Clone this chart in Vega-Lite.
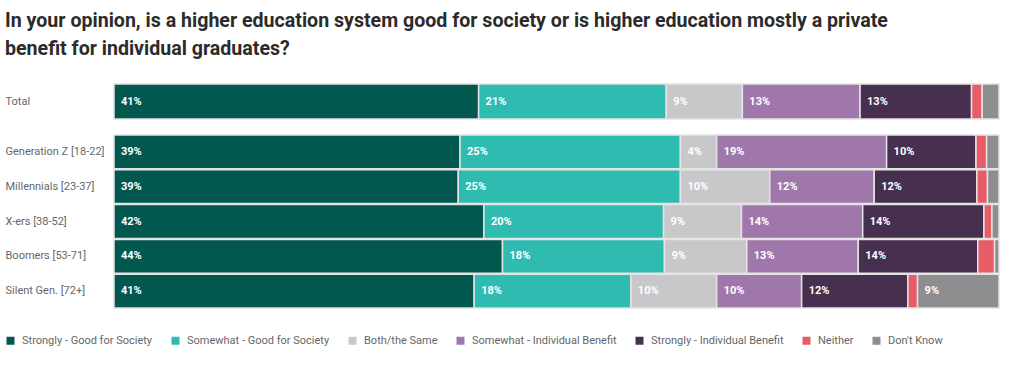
{
  "$schema": "https://vega.github.io/schema/vega-lite/v6.json",
  "background": "white",
  "padding": {"left": 5, "top": 10, "right": 5, "bottom": 5},
  "title": {
    "text": ["In your opinion, is a higher education system good for society or is higher education mostly a private", "benefit for individual graduates?"],
    "anchor": "start",
    "frame": "bounds",
    "font": "Roboto",
    "fontSize": 19.6,
    "fontWeight": "bold",
    "color": "#2b2b2b",
    "lineHeight": 28,
    "offset": 24
  },
  "data": {
    "values": [
      {"group": "Total", "answer": "Strongly - Good for Society", "share": 0.412},
      {"group": "Total", "answer": "Somewhat - Good for Society", "share": 0.212},
      {"group": "Total", "answer": "Both/the Same", "share": 0.086},
      {"group": "Total", "answer": "Somewhat - Individual Benefit", "share": 0.133},
      {"group": "Total", "answer": "Strongly - Individual Benefit", "share": 0.126},
      {"group": "Total", "answer": "Neither", "share": 0.012},
      {"group": "Total", "answer": "Don't Know", "share": 0.019},
      {"group": "Generation Z [18-22]", "answer": "Strongly - Good for Society", "share": 0.391},
      {"group": "Generation Z [18-22]", "answer": "Somewhat - Good for Society", "share": 0.249},
      {"group": "Generation Z [18-22]", "answer": "Both/the Same", "share": 0.041},
      {"group": "Generation Z [18-22]", "answer": "Somewhat - Individual Benefit", "share": 0.192},
      {"group": "Generation Z [18-22]", "answer": "Strongly - Individual Benefit", "share": 0.101},
      {"group": "Generation Z [18-22]", "answer": "Neither", "share": 0.012},
      {"group": "Generation Z [18-22]", "answer": "Don't Know", "share": 0.014},
      {"group": "Millennials [23-37]", "answer": "Strongly - Good for Society", "share": 0.389},
      {"group": "Millennials [23-37]", "answer": "Somewhat - Good for Society", "share": 0.251},
      {"group": "Millennials [23-37]", "answer": "Both/the Same", "share": 0.101},
      {"group": "Millennials [23-37]", "answer": "Somewhat - Individual Benefit", "share": 0.118},
      {"group": "Millennials [23-37]", "answer": "Strongly - Individual Benefit", "share": 0.116},
      {"group": "Millennials [23-37]", "answer": "Neither", "share": 0.012},
      {"group": "Millennials [23-37]", "answer": "Don't Know", "share": 0.013},
      {"group": "X-ers [38-52]", "answer": "Strongly - Good for Society", "share": 0.418},
      {"group": "X-ers [38-52]", "answer": "Somewhat - Good for Society", "share": 0.203},
      {"group": "X-ers [38-52]", "answer": "Both/the Same", "share": 0.088},
      {"group": "X-ers [38-52]", "answer": "Somewhat - Individual Benefit", "share": 0.137},
      {"group": "X-ers [38-52]", "answer": "Strongly - Individual Benefit", "share": 0.137},
      {"group": "X-ers [38-52]", "answer": "Neither", "share": 0.009},
      {"group": "X-ers [38-52]", "answer": "Don't Know", "share": 0.008},
      {"group": "Boomers [53-71]", "answer": "Strongly - Good for Society", "share": 0.439},
      {"group": "Boomers [53-71]", "answer": "Somewhat - Good for Society", "share": 0.183},
      {"group": "Boomers [53-71]", "answer": "Both/the Same", "share": 0.093},
      {"group": "Boomers [53-71]", "answer": "Somewhat - Individual Benefit", "share": 0.126},
      {"group": "Boomers [53-71]", "answer": "Strongly - Individual Benefit", "share": 0.135},
      {"group": "Boomers [53-71]", "answer": "Neither", "share": 0.019},
      {"group": "Boomers [53-71]", "answer": "Don't Know", "share": 0.005},
      {"group": "Silent Gen. [72+]", "answer": "Strongly - Good for Society", "share": 0.407},
      {"group": "Silent Gen. [72+]", "answer": "Somewhat - Good for Society", "share": 0.177},
      {"group": "Silent Gen. [72+]", "answer": "Both/the Same", "share": 0.097},
      {"group": "Silent Gen. [72+]", "answer": "Somewhat - Individual Benefit", "share": 0.096},
      {"group": "Silent Gen. [72+]", "answer": "Strongly - Individual Benefit", "share": 0.120},
      {"group": "Silent Gen. [72+]", "answer": "Neither", "share": 0.011},
      {"group": "Silent Gen. [72+]", "answer": "Don't Know", "share": 0.092}
    ]
  },
  "transform": [
    {"stack": "share", "groupby": ["group"], "as": ["s0", "s1"]}
  ],
  "spacing": 14,
  "config": {
    "view": {"stroke": null},
    "font": "Roboto",
    "axisY": {
      "title": null, "domain": false, "ticks": false, "grid": false,
      "labelAlign": "left", "labelPadding": 109, "labelColor": "#666666",
      "labelFontSize": 11, "labelFont": "Roboto"
    },
    "legend": {
      "orient": "none", "legendX": -109, "legendY": 251, "direction": "horizontal", "title": null,
      "symbolType": "square", "symbolSize": 64, "symbolStrokeWidth": 0,
      "labelFontSize": 11, "labelColor": "#666666", "labelFont": "Roboto",
      "columnPadding": 17, "labelOffset": 6
    }
  },
  "vconcat": [
    {
      "width": 885,
      "height": 35,
      "transform": [{"filter": "datum.group === 'Total'"}],
      "encoding": {
        "y": {"field": "group", "type": "nominal", "sort": null, "scale": {"paddingInner": 0.03, "paddingOuter": 0}}
      },
      "layer": [
        {
          "mark": {"type": "bar", "stroke": "#e4e4e4", "strokeWidth": 1.5},
          "encoding": {
            "x": {"field": "s0", "type": "quantitative", "axis": null, "scale": {"domain": [0, 1], "nice": false}},
            "x2": {"field": "s1"},
            "color": {
              "field": "answer", "type": "nominal",
              "scale": {
                "domain": ["Strongly - Good for Society", "Somewhat - Good for Society", "Both/the Same", "Somewhat - Individual Benefit", "Strongly - Individual Benefit", "Neither", "Don't Know"],
                "range": ["#02574f", "#30bbb1", "#c8c8ca", "#a077ab", "#472f4f", "#e75c66", "#8e8e90"]
              }
            }
          }
        },
        {
          "transform": [{"filter": "datum.share >= 0.03"}],
          "mark": {"type": "text", "align": "left", "baseline": "middle", "dx": 7, "color": "white", "fontSize": 11, "fontWeight": "bold", "font": "Roboto"},
          "encoding": {
            "x": {"field": "s0", "type": "quantitative"},
            "text": {"field": "share", "type": "quantitative", "format": ".0%"}
          }
        }
      ]
    },
    {
      "width": 885,
      "height": 173,
      "transform": [{"filter": "datum.group !== 'Total'"}],
      "encoding": {
        "y": {"field": "group", "type": "nominal", "sort": null, "scale": {"paddingInner": 0.03, "paddingOuter": 0}}
      },
      "layer": [
        {
          "mark": {"type": "bar", "stroke": "#e4e4e4", "strokeWidth": 1.5},
          "encoding": {
            "x": {"field": "s0", "type": "quantitative", "axis": null, "scale": {"domain": [0, 1], "nice": false}},
            "x2": {"field": "s1"},
            "color": {"field": "answer", "type": "nominal"}
          }
        },
        {
          "transform": [{"filter": "datum.share >= 0.03"}],
          "mark": {"type": "text", "align": "left", "baseline": "middle", "dx": 7, "color": "white", "fontSize": 11, "fontWeight": "bold", "font": "Roboto"},
          "encoding": {
            "x": {"field": "s0", "type": "quantitative"},
            "text": {"field": "share", "type": "quantitative", "format": ".0%"}
          }
        }
      ]
    }
  ]
}
